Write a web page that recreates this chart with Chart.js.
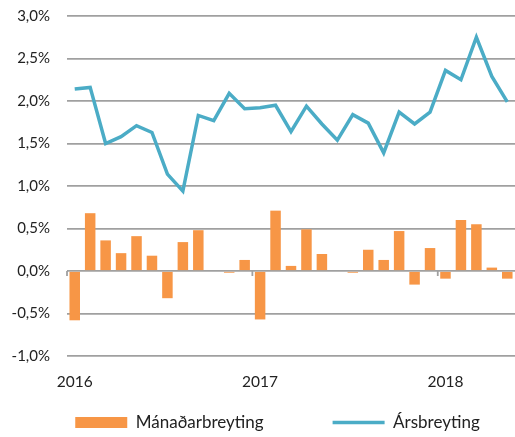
<!DOCTYPE html>
<html>
<head>
<meta charset="utf-8">
<script src="https://cdn.jsdelivr.net/npm/chart.js@4.4.0/dist/chart.umd.min.js"></script>
<style>
  html, body { margin: 0; padding: 0; background: #fff; }
</style>
</head>
<body>
<canvas id="chart" width="515" height="437"></canvas>
<script>
// Jan 2016 - May 2018
const months = [
  '2016-01', '2016-02', '2016-03', '2016-04', '2016-05', '2016-06',
  '2016-07', '2016-08', '2016-09', '2016-10', '2016-11', '2016-12',
  '2017-01', '2017-02', '2017-03', '2017-04', '2017-05', '2017-06',
  '2017-07', '2017-08', '2017-09', '2017-10', '2017-11', '2017-12',
  '2018-01', '2018-02', '2018-03', '2018-04', '2018-05'
];

// Mánaðarbreyting (%)
const monthlyChange = [
  -0.58, 0.68, 0.36, 0.21, 0.41, 0.18, -0.32, 0.34, 0.48, 0.00, -0.02, 0.13,
  -0.57, 0.71, 0.06, 0.49, 0.20, 0.00, -0.02, 0.25, 0.13, 0.47, -0.16, 0.27,
  -0.09, 0.60, 0.55, 0.04, -0.09
];

// Ársbreyting (%)
const yearlyChange = [
  2.14, 2.16, 1.50, 1.58, 1.71, 1.63, 1.14, 0.94, 1.83, 1.77, 2.09, 1.91,
  1.92, 1.95, 1.64, 1.94, 1.73, 1.54, 1.84, 1.74, 1.39, 1.87, 1.73, 1.87,
  2.36, 2.25, 2.75, 2.29, 1.99
];

const seriesNames = ['Mánaðarbreyting', 'Ársbreyting'];

const fontFamily = 'Lato, "Open Sans", sans-serif';
const textColor = '#222';
const gridColor = '#a0a0a0';
const legendSpacing = 69;

// little tick marks on the zero line where a new year starts
const yearMarks = {
  id: 'yearMarks',
  beforeDatasetsDraw(chart) {
    const { ctx, scales: { x, y } } = chart;
    const zero = y.getPixelForValue(0);
    const half = (x.getPixelForValue(1) - x.getPixelForValue(0)) / 2;
    ctx.save();
    ctx.strokeStyle = gridColor;
    ctx.lineWidth = 1.8;
    months.forEach((m, i) => {
      if (!m.endsWith('-01')) return;
      const px = x.getPixelForValue(i) - half;
      ctx.beginPath();
      ctx.moveTo(px, zero);
      ctx.lineTo(px, zero + 5);
      ctx.stroke();
    });
    ctx.restore();
  }
};

// wide gap between legend items, kept on one row and low on the canvas
const legendFix = {
  id: 'legendFix',
  afterInit(chart) {
    const legend = chart.legend;
    const fit = legend.fit;
    legend.fit = function () {
      this.maxWidth = 2000;
      fit.call(this);
      this.height = 47;
    };
  },
  afterLayout(chart) {
    const legend = chart.legend;
    legend.top += 24 - legendSpacing;
    legend.left -= 300 - 20;
    legend.right += 300 + 20;
  }
};

const ctx = document.getElementById('chart').getContext('2d');

new Chart(ctx, {
  type: 'bar',
  data: {
    labels: months,
    datasets: [
      {
        type: 'bar',
        label: seriesNames[0],
        data: monthlyChange,
        backgroundColor: '#f79646',
        borderWidth: 0,
        barPercentage: 0.68,
        categoryPercentage: 1.0,
        pointStyle: 'rect'
      },
      {
        type: 'line',
        label: seriesNames[1],
        data: yearlyChange,
        borderColor: '#4bacc6',
        backgroundColor: '#4bacc6',
        borderWidth: 3.5,
        pointRadius: 0,
        tension: 0,
        fill: false,
        pointStyle: 'line'
      }
    ]
  },
  options: {
    responsive: false,
    animation: false,
    devicePixelRatio: 1,
    layout: { padding: { top: 16, left: 0, right: 0, bottom: 0 } },
    scales: {
      x: {
        afterFit(scale) {
          scale.height = 34;
          scale.paddingLeft = 0;
          scale.paddingRight = 0;
        },
        grid: { display: false, drawTicks: false },
        border: { display: false },
        ticks: {
          autoSkip: false,
          maxRotation: 0,
          padding: 17,
          color: textColor,
          font: { family: fontFamily, size: 15.5 },
          callback: function (value, index) {
            const m = months[index];
            return m.endsWith('-01') ? m.slice(0, 4) : '';
          }
        }
      },
      y: {
        min: -1,
        max: 3,
        afterFit(scale) {
          scale.width = 67;
          scale.paddingTop = 0;
          scale.paddingBottom = 0;
        },
        grid: { color: gridColor, lineWidth: 1.8, drawTicks: false },
        border: { display: false },
        ticks: {
          stepSize: 0.5,
          padding: 17,
          color: textColor,
          font: { family: fontFamily, size: 15 },
          callback: v => v.toFixed(1).replace('.', ',') + '%'
        }
      }
    },
    plugins: {
      legend: {
        position: 'bottom',
        labels: {
          usePointStyle: true,
          pointStyleWidth: 52,
          boxHeight: 11,
          padding: legendSpacing,
          color: textColor,
          font: { family: fontFamily, size: 17 }
        }
      },
      tooltip: { enabled: false }
    }
  },
  plugins: [yearMarks, legendFix]
});
</script>
</body>
</html>
